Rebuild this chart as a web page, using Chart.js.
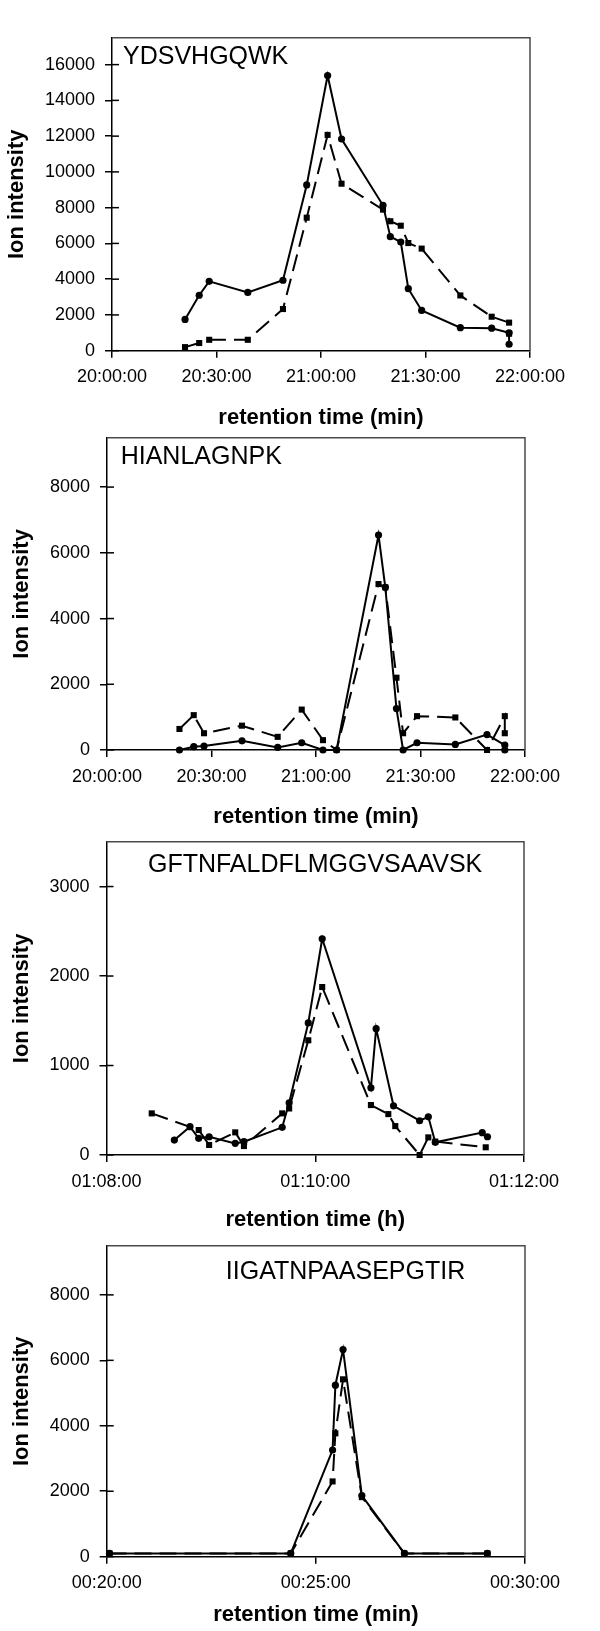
<!DOCTYPE html>
<html>
<head>
<meta charset="utf-8">
<script src="https://cdn.jsdelivr.net/npm/chart.js@4.4.1/dist/chart.umd.min.js"></script>
<style>
  html, body { margin: 0; padding: 0; background: #fff; }
  #page { position: relative; width: 600px; height: 1631px; overflow: hidden; }
  #page canvas { position: absolute; left: 0; }
</style>
</head>
<body>
<div id="page"></div>
<script>
// ---- panel 1: YDSVHGQWK ----
var p1Label = "YDSVHGQWK";
var p1Times = ["20:20:58", "20:25:02", "20:27:54", "20:38:59", "20:49:05", "20:55:54", "21:01:54", "21:05:54", "21:17:48",
  "21:19:54", "21:22:54", "21:25:04", "21:28:54", "21:40:00", "21:49:00", "21:54:00", "21:54:00"];
var p1Solid = [1750, 3100, 3880, 3260, 3940, 9270, 15390, 11840, 8130, 6380, 6080, 3470, 2250, 1290, 1260, 1000, 360];
var p1Dashed = [200, 430, 610, 610, 2330, 7440, 12070, 9340, 7890, 7240, 6990, 6020, 5710, 3090, 1900, 1570, 950];
var p1XTicks = ["20:00:00", "20:30:00", "21:00:00", "21:30:00", "22:00:00"];
var p1YTicks = [0, 2000, 4000, 6000, 8000, 10000, 12000, 14000, 16000];
var p1YMax = 17500;

// ---- panel 2: HIANLAGNPK ----
var p2Label = "HIANLAGNPK";
var p2Times = ["20:20:48", "20:24:54", "20:27:51", "20:38:45", "20:49:00", "20:55:54", "21:02:00", "21:05:54", "21:17:57",
  "21:19:54", "21:23:06", "21:25:00", "21:29:00", "21:40:00", "21:49:06", "21:54:12", "21:54:12"];
var p2Solid = [0, 100, 120, 280, 80, 220, 0, 0, 6540, 4950, 1260, 0, 220, 170, 470, 150, 0];
var p2Dashed = [640, 1060, 510, 740, 400, 1230, 300, 0, 5050, 4950, 2200, 510, 1030, 990, 0, 1030, 510];
var p2XTicks = ["20:00:00", "20:30:00", "21:00:00", "21:30:00", "22:00:00"];
var p2YTicks = [0, 2000, 4000, 6000, 8000];
var p2YMax = 9500;

// ---- panel 3: GFTNFALDFLMGGVSAAVSK ----
var p3Label = "GFTNFALDFLMGGVSAAVSK";
var p3SolidTimes = ["01:08:39", "01:08:48", "01:08:53", "01:08:59", "01:09:14", "01:09:19", "01:09:41", "01:09:45", "01:09:56",
  "01:10:04", "01:10:32", "01:10:35", "01:10:45", "01:11:00", "01:11:05", "01:11:09", "01:11:36", "01:11:39"];
var p3Solid = [167, 316, 186, 204, 130, 149, 309, 584, 1476, 2416, 751, 1412, 550, 383, 427, 142, 250, 204];
var p3DashedTimes = ["01:08:26", "01:08:53", "01:08:59", "01:09:14", "01:09:19", "01:09:41", "01:09:45", "01:09:56",
  "01:10:04", "01:10:32", "01:10:42", "01:10:46", "01:11:00", "01:11:05", "01:11:09", "01:11:38"];
var p3Dashed = [465, 279, 112, 253, 100, 465, 520, 1282, 1877, 558, 457, 323, 0, 197, 150, 86];
var p3XTicks = ["01:08:00", "01:10:00", "01:12:00"];
var p3YTicks = [0, 1000, 2000, 3000];
var p3YMax = 3500;

// ---- panel 4: IIGATNPAASEPGTIR ----
var p4Label = "IIGATNPAASEPGTIR";
var p4Times = ["00:20:04", "00:24:24", "00:25:24", "00:25:28", "00:25:39", "00:26:06", "00:27:07", "00:29:06"];
var p4Solid = [100, 100, 3260, 5240, 6330, 1870, 100, 100];
var p4Dashed = [100, 100, 2300, 3770, 5420, 1820, 100, 100];
var p4XTicks = ["00:20:00", "00:25:00", "00:30:00"];
var p4YTicks = [0, 2000, 4000, 6000, 8000];
var p4YMax = 9500;

var yTitle = "Ion intensity";

Chart.defaults.font.family = "'Liberation Sans', Arial, sans-serif";
Chart.defaults.color = "#000";

function toSec(s) {
  var p = s.split(":");
  return (+p[0]) * 3600 + (+p[1]) * 60 + (+p[2]);
}

function points(times, values) {
  return times.map(function (t, i) {
    return { x: toSec(t), y: values[i] };
  });
}

var framePlugin = {
  id: "frame",
  afterDraw: function (chart, args, opts) {
    var a = chart.chartArea;
    var ctx = chart.ctx;
    ctx.save();
    // grey box on top and right
    ctx.strokeStyle = "#4a4a4a";
    ctx.lineWidth = 1.5;
    ctx.beginPath();
    ctx.moveTo(a.left, a.top);
    ctx.lineTo(a.right, a.top);
    ctx.lineTo(a.right, a.bottom);
    ctx.stroke();
    // y ticks cross the axis
    var y = chart.scales.y;
    ctx.strokeStyle = "#000";
    y.ticks.forEach(function (t) {
      var py = y.getPixelForValue(t.value);
      ctx.beginPath();
      ctx.moveTo(a.left, py);
      ctx.lineTo(a.left + 7, py);
      ctx.stroke();
    });
    // peptide name
    ctx.fillStyle = "#000";
    ctx.font = "25px 'Liberation Sans', Arial, sans-serif";
    ctx.textBaseline = "middle";
    ctx.textAlign = opts.align;
    ctx.fillText(opts.text, a.left + opts.dx, a.top + opts.dy);
    ctx.restore();
  }
};

function makeChart(p) {
  var canvas = document.createElement("canvas");
  var canvasTop = Math.floor(p.box.top) - 20;
  var canvasH = Math.ceil(p.titleY + 16) - canvasTop;
  canvas.width = 600;
  canvas.height = canvasH;
  canvas.style.top = canvasTop + "px";
  canvas.style.width = "600px";
  canvas.style.height = canvasH + "px";
  document.getElementById("page").appendChild(canvas);

  var xHeight = p.titleY - p.box.bottom + 13.2;
  var padBottom = canvasH - (p.box.bottom - canvasTop) - xHeight;
  var xTickSecs = p.xTicks.map(toSec);

  return new Chart(canvas, {
    type: "line",
    data: {
      datasets: [
        {
          data: points(p.solidTimes, p.solid),
          borderColor: "#000",
          borderWidth: 2,
          pointStyle: "circle",
          pointRadius: 3.6,
          pointBackgroundColor: "#000",
          pointBorderWidth: 0,
          tension: 0,
          clip: false
        },
        {
          data: points(p.dashedTimes, p.dashed),
          borderColor: "#000",
          borderWidth: 2,
          borderDash: [17, 8],
          pointStyle: "rect",
          pointRadius: 4.3,
          pointBackgroundColor: "#000",
          pointBorderWidth: 0,
          tension: 0,
          clip: false
        }
      ]
    },
    options: {
      responsive: false,
      animation: false,
      events: [],
      layout: {
        padding: { top: p.box.top - canvasTop, bottom: padBottom, left: 0, right: 600 - p.box.right }
      },
      plugins: {
        legend: { display: false },
        tooltip: { enabled: false },
        frame: { text: p.label, align: p.labelAlign, dx: p.labelDx, dy: p.labelDy }
      },
      scales: {
        x: {
          type: "linear",
          min: xTickSecs[0],
          max: xTickSecs[xTickSecs.length - 1],
          afterBuildTicks: function (s) {
            s.ticks = xTickSecs.map(function (v) { return { value: v }; });
          },
          afterFit: function (s) { s.height = xHeight; },
          grid: { drawOnChartArea: false, color: "#000", lineWidth: 1.5, tickLength: 7 },
          border: { color: "#000", width: 1.5 },
          ticks: {
            autoSkip: false,
            maxRotation: 0,
            padding: 9,
            font: { size: 18 },
            callback: function (v, i) { return p.xTicks[i]; }
          },
          title: {
            display: true,
            text: p.xTitle,
            font: { size: 22, weight: "bold" },
            padding: { top: 0, bottom: 0 }
          }
        },
        y: {
          min: 0,
          max: p.yMax,
          afterBuildTicks: function (s) {
            s.ticks = p.yTicks.map(function (v) { return { value: v }; });
          },
          afterFit: function (s) { s.width = p.box.left; },
          grid: { drawOnChartArea: false, color: "#000", lineWidth: 1.5, tickLength: 7 },
          border: { color: "#000", width: 1.5 },
          ticks: {
            padding: 10,
            font: { size: 18 },
            callback: function (v) { return String(v); }
          },
          title: {
            display: true,
            text: yTitle,
            font: { size: 22, weight: "bold" },
            padding: { top: p.yTitleX - 13.2, bottom: 0 }
          }
        }
      }
    },
    plugins: [framePlugin]
  });
}

var panels = [
  {
    label: p1Label, labelAlign: "left", labelDx: 11, labelDy: 19,
    solidTimes: p1Times, solid: p1Solid, dashedTimes: p1Times, dashed: p1Dashed,
    xTicks: p1XTicks, yTicks: p1YTicks, yMax: p1YMax, xTitle: "retention time (min)",
    box: { top: 37.7, bottom: 350.7, left: 112, right: 530 }, titleY: 418, yTitleX: 17
  },
  {
    label: p2Label, labelAlign: "left", labelDx: 13.7, labelDy: 19.4,
    solidTimes: p2Times, solid: p2Solid, dashedTimes: p2Times, dashed: p2Dashed,
    xTicks: p2XTicks, yTicks: p2YTicks, yMax: p2YMax, xTitle: "retention time (min)",
    box: { top: 437.3, bottom: 750, left: 107, right: 525 }, titleY: 816.7, yTitleX: 21.5
  },
  {
    label: p3Label, labelAlign: "center", labelDx: 208.6, labelDy: 23.3,
    solidTimes: p3SolidTimes, solid: p3Solid, dashedTimes: p3DashedTimes, dashed: p3Dashed,
    xTicks: p3XTicks, yTicks: p3YTicks, yMax: p3YMax, xTitle: "retention time (h)",
    box: { top: 841.7, bottom: 1155, left: 106.5, right: 524 }, titleY: 1220, yTitleX: 21.5
  },
  {
    label: p4Label, labelAlign: "center", labelDx: 238.8, labelDy: 26.3,
    solidTimes: p4Times, solid: p4Solid, dashedTimes: p4Times, dashed: p4Dashed,
    xTicks: p4XTicks, yTicks: p4YTicks, yMax: p4YMax, xTitle: "retention time (min)",
    box: { top: 1245, bottom: 1556.7, left: 106.7, right: 525 }, titleY: 1615, yTitleX: 21.5
  }
];

panels.forEach(makeChart);
</script>
</body>
</html>
